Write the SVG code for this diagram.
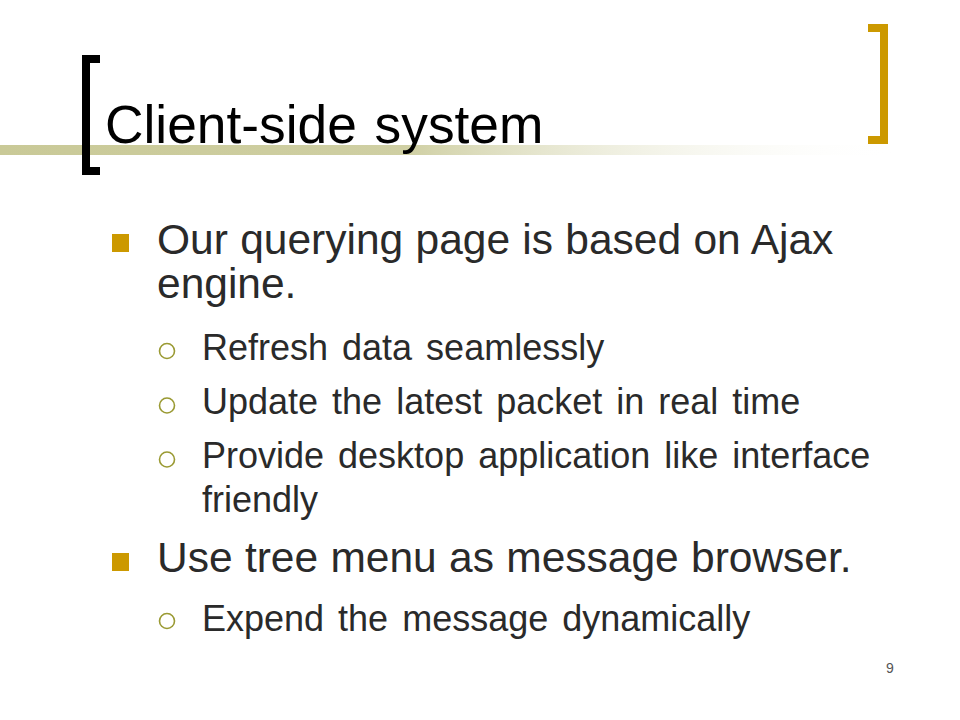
<svg xmlns="http://www.w3.org/2000/svg" width="960" height="720" viewBox="0 0 960 720">
  <defs>
    <linearGradient id="rule" x1="0" y1="0" x2="1" y2="0">
      <stop offset="0" stop-color="#C9C997"/>
      <stop offset="0.45" stop-color="#CFCFA3"/>
      <stop offset="1" stop-color="#FFFFFF" stop-opacity="0"/>
    </linearGradient>
    <style>
      .title { font-family: "Liberation Sans", Arial, sans-serif; font-size: 53.3px; fill: #000000; word-spacing: 3px; }
      .l1 { font-family: "Liberation Sans", Arial, sans-serif; font-size: 42.5px; fill: #2a2a2a; word-spacing: 0.5px; }
      .l2 { font-family: "Liberation Sans", Arial, sans-serif; font-size: 36px; fill: #2a2a2a; word-spacing: 4px; }
      .sq { fill: #CC9900; }
      .ring { fill: none; stroke: #9A9A33; stroke-width: 1.6; }
      .pg { font-family: "Liberation Sans", Arial, sans-serif; font-size: 14px; fill: #555555; }
    </style>
  </defs>
  <rect width="960" height="720" fill="#FFFFFF"/>

  <g id="decoration">
    <rect x="0" y="145" width="900" height="10" fill="url(#rule)"/>
    <path d="M82,55 H100 V63 H90 V167 H100 V175 H82 Z" fill="#000000"/>
    <path d="M868,24 H888 V144 H868 V136 H880 V32 H868 Z" fill="#CC9900"/>
  </g>

  <g id="title">
    <text class="title" x="105" y="143">Client-side system</text>
  </g>

  <g id="bullet-ajax">
    <rect class="sq" x="112" y="234" width="17" height="18"/>
    <text class="l1" x="157" y="254">Our querying page is based on Ajax</text>
    <text class="l1" x="157" y="298">engine.</text>
  </g>

  <g id="sub-refresh">
    <circle class="ring" cx="167" cy="351" r="7.5"/>
    <text class="l2" x="202" y="360">Refresh data seamlessly</text>
  </g>

  <g id="sub-update">
    <circle class="ring" cx="167" cy="405.5" r="7.5"/>
    <text class="l2" x="202" y="414">Update the latest packet in real time</text>
  </g>

  <g id="sub-provide">
    <circle class="ring" cx="167" cy="459.5" r="7.5"/>
    <text class="l2" x="202" y="468" word-spacing="5">Provide desktop application like interface</text>
    <text class="l2" x="202" y="512">friendly</text>
  </g>

  <g id="bullet-tree">
    <rect class="sq" x="112" y="553" width="17" height="18"/>
    <text class="l1" x="157" y="572">Use tree menu as message browser.</text>
  </g>

  <g id="sub-expend">
    <circle class="ring" cx="167" cy="621" r="7.5"/>
    <text class="l2" x="202" y="631">Expend the message dynamically</text>
  </g>

  <g id="page-number">
    <text class="pg" x="890" y="673" text-anchor="middle">9</text>
  </g>

  <g id="connectors"/>
</svg>
